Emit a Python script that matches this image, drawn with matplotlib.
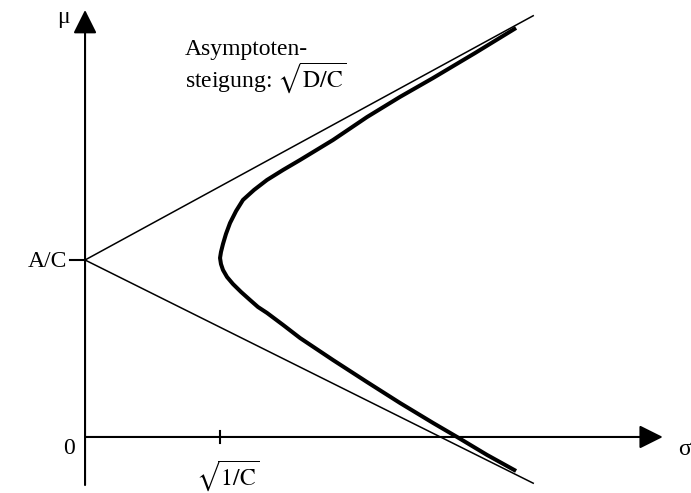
import numpy as np
import matplotlib
matplotlib.use("Agg")
import matplotlib.pyplot as plt
from matplotlib.patches import FancyArrowPatch

plt.rcParams['font.family'] = ['Liberation Serif', 'DejaVu Serif']
plt.rcParams['mathtext.fontset'] = 'stix'

## key levels (units: sqrt(1/C) = 1)
A_C = 1.311
SQRT_1_C = 1.0
SLOPE_UP = 0.545
SLOPE_DOWN = 0.498
ASYM_END = 3.32

## frontier (sigma, mu), top end -> bottom end
sigma = [3.193, 2.889, 2.578, 2.333, 2.089, 1.837, 1.593, 1.467, 1.348, 1.252,
         1.170, 1.119, 1.074, 1.044, 1.022, 1.007, 1.000,
         1.007, 1.022, 1.052, 1.096, 1.156, 1.222, 1.281, 1.348, 1.467,
         1.593, 1.837, 2.089, 2.333, 2.578, 2.756, 2.978, 3.193]
mu = [3.030, 2.844, 2.659, 2.519, 2.370, 2.200, 2.052, 1.978, 1.904, 1.830,
      1.756, 1.674, 1.585, 1.504, 1.430, 1.370, 1.326,
      1.281, 1.237, 1.185, 1.133, 1.074, 1.015, 0.963, 0.919, 0.830,
      0.733, 0.570, 0.407, 0.252, 0.104, 0.0, -0.133, -0.252]

fig = plt.figure(figsize=(6.91, 4.93), dpi=100)
ax = fig.add_axes([0, 0, 1, 1])
ax.set_xlim(-0.63, 4.489)
ax.set_ylim(-0.415, 3.237)
ax.axis('off')

## axes with arrow heads
def axis_arrow(p0, p1):
    a = FancyArrowPatch(p0, p1, arrowstyle='-|>,head_length=14.4,head_width=7.2',
                        mutation_scale=1, shrinkA=0, shrinkB=0,
                        color='black', lw=1.5)
    ax.add_patch(a)

axis_arrow((0, -0.356), (0, 3.163))
axis_arrow((0, 0), (4.28, 0))

## ticks
ax.plot([-0.111, 0], [A_C, A_C], color='black', lw=1.5)
ax.plot([SQRT_1_C, SQRT_1_C], [-0.044, 0.044], color='black', lw=1.5)

## asymptotes
ax.plot([0, ASYM_END], [A_C, A_C + SLOPE_UP * ASYM_END], color='black', lw=1.1)
ax.plot([0, ASYM_END], [A_C, A_C - SLOPE_DOWN * ASYM_END], color='black', lw=1.1)

## frontier
ax.plot(sigma, mu, color='black', lw=2.9, solid_capstyle='butt',
        solid_joinstyle='round')

## labels
fs = 17
ax.text(-0.115, 3.07, 'μ', ha='right', va='baseline', fontsize=fs)
ax.text(4.393, -0.133, 'σ', ha='left', va='baseline', fontsize=fs)
ax.text(-0.13, A_C - 0.055, 'A/C', ha='right', va='baseline', fontsize=fs)
ax.text(-0.074, -0.126, '0', ha='right', va='baseline', fontsize=fs)
ax.text(SQRT_1_C + 0.06, -0.355, r'$\sqrt{1/\mathrm{C}}$', ha='center',
        va='baseline', fontsize=fs)
ax.text(0.741, 2.83, 'Asymptoten-', ha='left', va='baseline', fontsize=fs)
ax.text(0.741, 2.593, r'steigung: $\sqrt{\mathrm{D/C}}$', ha='left',
        va='baseline', fontsize=fs)

fig.savefig('out.png', dpi=100)
